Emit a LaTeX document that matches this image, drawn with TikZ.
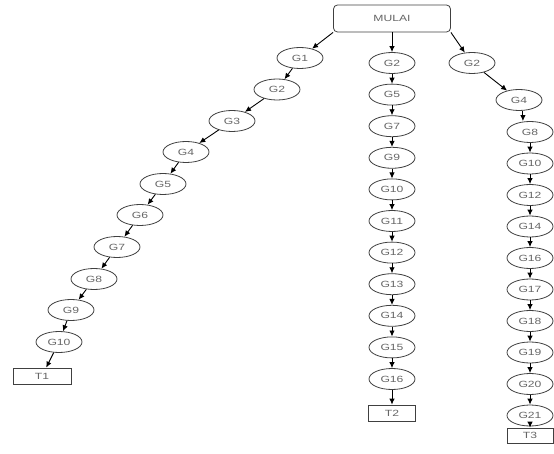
\documentclass[tikz,border=0pt]{standalone}
\usepackage{fontspec}
\setmainfont{Liberation Sans}
\newfontfamily\stfont[FakeStretch=1.35]{Liberation Sans}
\usetikzlibrary{positioning,arrows.meta,shapes.geometric}
\tikzset{
mystate/.style={
  ellipse,
  draw=black!75,
  line width=0.8pt,
  minimum width=46pt,
  minimum height=21pt,
  inner sep=0pt,
  text=black!60,
  font=\stfont\fontsize{9}{10}\selectfont
  },
myend/.style={
  mystate,
  rectangle,
  minimum width=#1,
  minimum height=16pt
  },
mystart/.style={
  mystate,
  rectangle,
  rounded corners=4pt,
  minimum width=117pt,
  minimum height=27pt
  }
}

\begin{document}
\begin{tikzpicture}[x=1pt,y=-1pt,>={Latex[length=6pt,width=5.5pt]},line width=0.9pt]
\useasboundingbox (0,0) rectangle (554,454);

\node[mystart] (mulai) at (392,18.5) {MULAI};

% kiri
\foreach \i/\x/\y in {1/300/58,2/277/89.5,3/232/121,4/186/152,5/163/184,
  6/140/215,7/117/247,8/94/279,9/71/310,10/59/342}
  \node[mystate] (a\i) at (\x,\y) {G\i};
\node[myend=58pt] (t1) at (42,376) {T1};

% tengah
\foreach \g [count=\k] in {2,5,7,9,10,11,12,13,14,15,16}
  \node[mystate] (b\k) at (392,{63+31.6*(\k-1)}) {G\g};
\node[myend=47pt] (t2) at (392,413) {T2};

% kanan
\node[mystate] (c1) at (472,63) {G2};
\node[mystate] (c2) at (519,100) {G4};
\foreach \g [count=\k from 3] in {8,10,12,14,16,17,18,19,20,21}
  \node[mystate] (c\k) at (530,{132+31.5*(\k-3)}) {G\g};
\node[myend=46pt,minimum height=15pt] (t3) at (530,435.5) {T3};

\draw[->] (mulai.south west) -- (a1);
\draw[->] (mulai) -- (b1);
\draw[->] (mulai.south east) -- (c1);

\foreach \i [remember=\i as \p (initially 1)] in {2,...,10}
  \draw[->] (a\p) -- (a\i);
\draw[->] (a10) -- (t1);

\foreach \i [remember=\i as \p (initially 1)] in {2,...,11}
  \draw[->] (b\p) -- (b\i);
\draw[->] (b11) -- (t2);

\draw[->] (c1) -- (c2);
\draw[->] (c2.-70) -- (c2.-70 |- c3.north);
\foreach \i [remember=\i as \p (initially 3)] in {4,...,12}
  \draw[->] (c\p) -- (c\i);
\draw[->] (c12) -- (t3);
\end{tikzpicture}
\end{document}
